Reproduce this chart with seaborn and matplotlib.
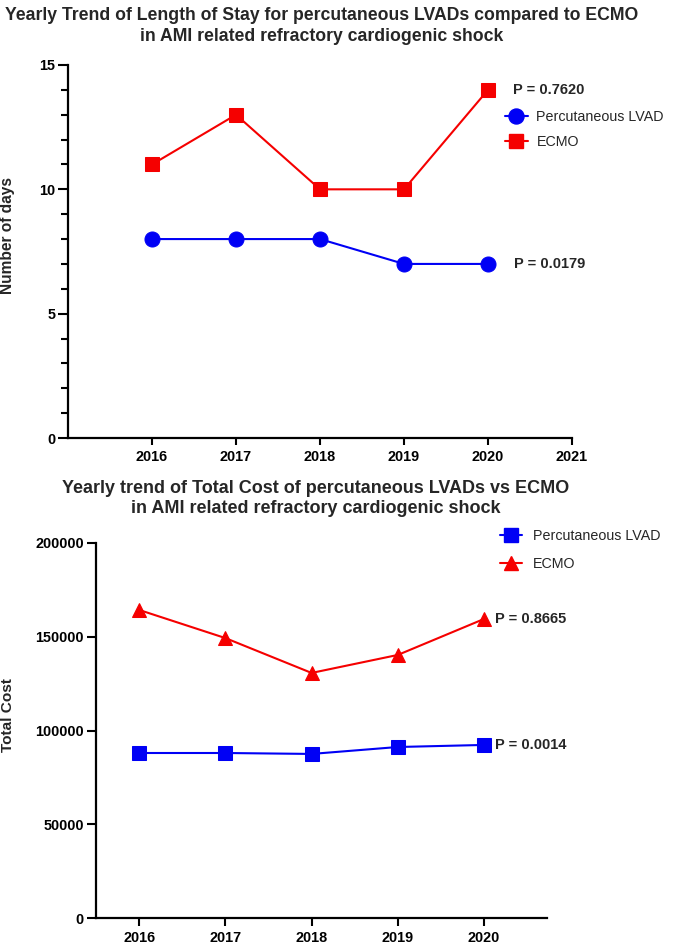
import matplotlib
matplotlib.use("Agg")
import pandas as pd
import matplotlib.pyplot as plt
import seaborn as sns
from matplotlib.lines import Line2D
from matplotlib.ticker import MultipleLocator

# data
years = [2016, 2017, 2018, 2019, 2020]

los_lvad = [8, 8, 8, 7, 7]
los_ecmo = [11, 13, 10, 10, 14]
los_p_lvad = "P = 0.0179"
los_p_ecmo = "P = 0.7620"

cost_lvad = [88000, 88000, 87500, 91200, 92300]
cost_ecmo = [164300, 149300, 130700, 140300, 159500]
cost_p_lvad = "P = 0.0014"
cost_p_ecmo = "P = 0.8665"

series_names = ["Percutaneous LVAD", "ECMO"]

BLUE = "#0000F5"
RED = "#F50000"

sns.set_theme(style="ticks")
plt.rcParams["font.family"] = ["Liberation Sans", "DejaVu Sans"]

fig = plt.figure(figsize=(6.73, 9.5), dpi=100)


def style_axes(ax, ytick_len, xtick_len):
    sns.despine(ax=ax)
    for s in ["left", "bottom"]:
        ax.spines[s].set_linewidth(1.6)
        ax.spines[s].set_color("black")
    ax.tick_params(axis="both", which="major", width=1.5, colors="black",
                   labelsize=10.4, direction="out")
    ax.tick_params(axis="y", which="major", length=ytick_len, pad=2)
    ax.tick_params(axis="x", which="major", length=xtick_len, pad=3.5)
    ax.tick_params(axis="y", which="minor", length=5, width=1.5, color="black")
    for lbl in ax.get_xticklabels() + ax.get_yticklabels():
        lbl.set_fontweight("bold")
    ax.grid(False)


# ---------------- top panel: length of stay ----------------
ax1 = fig.add_axes([68 / 673, 1 - 438 / 950, 504 / 673, 373 / 950])
df1 = pd.DataFrame({"year": years, "lvad": los_lvad, "ecmo": los_ecmo})

sns.lineplot(data=df1, x="year", y="lvad", ax=ax1, color=BLUE, marker="o",
             markersize=10.8, markeredgecolor=BLUE, linewidth=1.5)
sns.lineplot(data=df1, x="year", y="ecmo", ax=ax1, color=RED, marker="s",
             markersize=10.3, markeredgecolor=RED, linewidth=1.5)

ax1.set_xlim(2015, 2021)
ax1.set_ylim(0, 15)
ax1.set_xticks([2016, 2017, 2018, 2019, 2020, 2021])
ax1.yaxis.set_major_locator(MultipleLocator(5))
ax1.yaxis.set_minor_locator(MultipleLocator(1))
ax1.set_xlabel("")
ax1.set_ylabel("Number of days", fontsize=11.2, fontweight="bold")
ax1.yaxis.set_label_coords(-0.105, 0.544)
style_axes(ax1, 7, 5)

ax1.annotate(los_p_ecmo, xy=(years[-1], los_ecmo[-1]), xytext=(18, 0),
             textcoords="offset points", va="center", ha="left",
             fontsize=10.5, fontweight="bold")
ax1.annotate(los_p_lvad, xy=(years[-1], los_lvad[-1]), xytext=(19, 0),
             textcoords="offset points", va="center", ha="left",
             fontsize=10.5, fontweight="bold")

h1 = [Line2D([], [], color=BLUE, marker="o", ms=10.8, lw=1.5),
      Line2D([], [], color=RED, marker="s", ms=10.3, lw=1.5)]
fig.legend(h1, series_names, loc="center left",
           bbox_to_anchor=(505 / 673, 1 - 129.5 / 950), frameon=False,
           fontsize=10.3, borderpad=0, borderaxespad=0, handlelength=1.6,
           handletextpad=0.6, labelspacing=0.75)

fig.text(322 / 673, 1 - 26 / 950,
         "Yearly Trend of Length of Stay for percutaneous LVADs compared to ECMO\n"
         "in AMI related refractory cardiogenic shock",
         ha="center", va="center", fontsize=12.7, fontweight="bold",
         linespacing=1.25)

# ---------------- bottom panel: total cost ----------------
ax2 = fig.add_axes([96 / 673, 1 - 918 / 950, 451 / 673, 375 / 950])
df2 = pd.DataFrame({"year": years, "lvad": cost_lvad, "ecmo": cost_ecmo})

sns.lineplot(data=df2, x="year", y="lvad", ax=ax2, color=BLUE, marker="s",
             markersize=10.5, markeredgecolor=BLUE, linewidth=1.5)
sns.lineplot(data=df2, x="year", y="ecmo", ax=ax2, color=RED, marker="^",
             markersize=10.5, markeredgecolor=RED, linewidth=1.5)

ax2.set_xlim(2015.5, 2020.73)
ax2.set_ylim(0, 200000)
ax2.set_xticks(years)
ax2.yaxis.set_major_locator(MultipleLocator(50000))
ax2.set_xlabel("")
ax2.set_ylabel("Total Cost", fontsize=11.1, fontweight="bold")
ax2.yaxis.set_label_coords(-0.18, 0.541)
style_axes(ax2, 6.7, 6)

ax2.annotate(cost_p_ecmo, xy=(years[-1], cost_ecmo[-1]), xytext=(8, 0),
             textcoords="offset points", va="center", ha="left",
             fontsize=10.5, fontweight="bold")
ax2.annotate(cost_p_lvad, xy=(years[-1], cost_lvad[-1]), xytext=(8, 0),
             textcoords="offset points", va="center", ha="left",
             fontsize=10.5, fontweight="bold")

h2 = [Line2D([], [], color=BLUE, marker="s", ms=10.5, lw=1.5),
      Line2D([], [], color=RED, marker="^", ms=10.5, lw=1.5)]
fig.legend(h2, series_names, loc="center left",
           bbox_to_anchor=(500 / 673, 1 - 550 / 950), frameon=False,
           fontsize=10.3, borderpad=0, borderaxespad=0, handlelength=1.55,
           handletextpad=0.75, labelspacing=0.95)

fig.text(316 / 673, 1 - 498.5 / 950,
         "Yearly trend of Total Cost of percutaneous LVADs vs ECMO\n"
         "in AMI related refractory cardiogenic shock",
         ha="center", va="center", fontsize=13.0, fontweight="bold",
         linespacing=1.28)

fig.savefig("out.png", dpi=100, facecolor="white")
